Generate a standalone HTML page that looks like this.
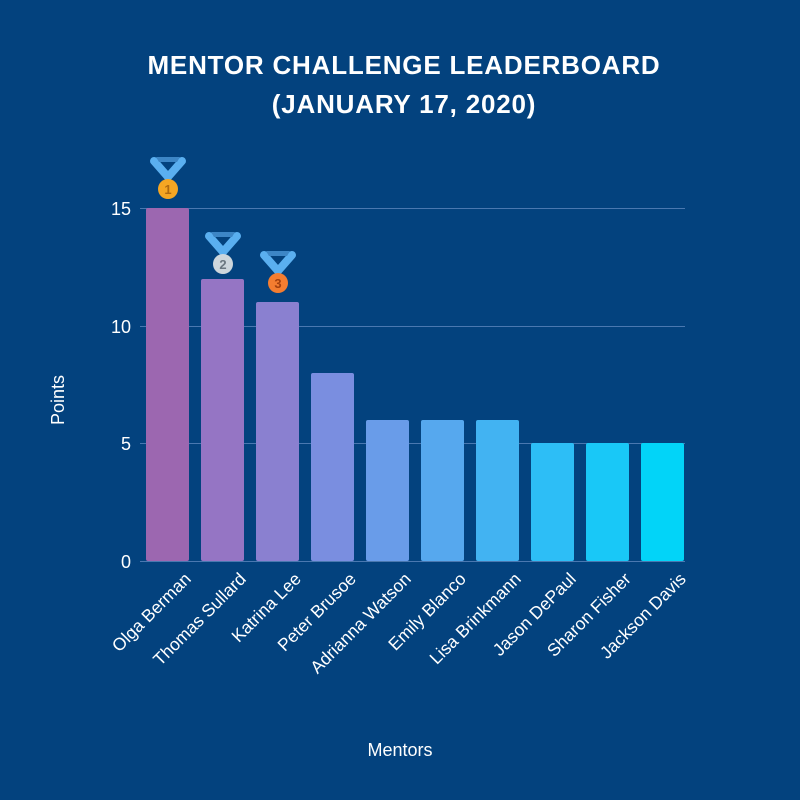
<!DOCTYPE html>
<html><head><style>
html,body{margin:0;padding:0;background:#03427e;}
svg{display:block;font-family:"Liberation Sans",sans-serif;}
</style></head><body>
<svg width="800" height="800" viewBox="0 0 800 800">
<rect width="800" height="800" fill="#03427e"/>
<text x="404" y="74" text-anchor="middle" fill="#fff" font-size="26" font-weight="bold" letter-spacing="0.8">MENTOR CHALLENGE LEADERBOARD</text>
<text x="404" y="113" text-anchor="middle" fill="#fff" font-size="26" font-weight="bold" letter-spacing="0.8">(JANUARY 17, 2020)</text>
<g stroke="#4a78b0" stroke-width="1">
<line x1="140" y1="208.5" x2="685" y2="208.5"/>
<line x1="140" y1="326.5" x2="685" y2="326.5"/>
<line x1="140" y1="443.5" x2="685" y2="443.5"/>
<line x1="140" y1="561.5" x2="685" y2="561.5"/>
</g>
<g fill="#fff" font-size="18" text-anchor="end">
<text x="131" y="215">15</text>
<text x="131" y="333">10</text>
<text x="131" y="450">5</text>
<text x="131" y="568">0</text>
</g>
<text transform="translate(64,400) rotate(-90)" text-anchor="middle" fill="#fff" font-size="18">Points</text>
<text x="400" y="756" text-anchor="middle" fill="#fff" font-size="18">Mentors</text>
<g>
<rect x="146" y="208" width="43" height="353" rx="2" fill="#9c67b0"/>
<rect x="201" y="279" width="43" height="282" rx="2" fill="#9575c4"/>
<rect x="256" y="302" width="43" height="259" rx="2" fill="#8a80d0"/>
<rect x="311" y="373" width="43" height="188" rx="2" fill="#7a8ee0"/>
<rect x="366" y="420" width="43" height="141" rx="2" fill="#699ce9"/>
<rect x="421" y="420" width="43" height="141" rx="2" fill="#56a8ee"/>
<rect x="476" y="420" width="43" height="141" rx="2" fill="#42b3f2"/>
<rect x="531" y="443" width="43" height="118" rx="2" fill="#2dbef6"/>
<rect x="586" y="443" width="43" height="118" rx="2" fill="#19c8f7"/>
<rect x="641" y="443" width="43" height="118" rx="2" fill="#02d4f8"/>
</g>
<g fill="#fff" font-size="17.5" text-anchor="end">
<text transform="translate(192,580) rotate(-45)">Olga Berman</text>
<text transform="translate(247,580) rotate(-45)">Thomas Sullard</text>
<text transform="translate(302,580) rotate(-45)">Katrina Lee</text>
<text transform="translate(357,580) rotate(-45)">Peter Brusoe</text>
<text transform="translate(412,580) rotate(-45)">Adrianna Watson</text>
<text transform="translate(467,580) rotate(-45)">Emily Blanco</text>
<text transform="translate(522,580) rotate(-45)">Lisa Brinkmann</text>
<text transform="translate(577,580) rotate(-45)">Jason DePaul</text>
<text transform="translate(632,580) rotate(-45)">Sharon Fisher</text>
<text transform="translate(687,580) rotate(-45)">Jackson Davis</text>
</g>
<defs>
<g id="rib">
<path d="M-14,-28 L0,-12 L14,-28" fill="none" stroke="#5aaff0" stroke-width="8" stroke-linejoin="round" stroke-linecap="round"/>
<path d="M-12,-32 L12,-32 L9,-27 L-9,-27 Z" fill="#3d86c6"/>
</g>
</defs>
<g transform="translate(168,189)"><use href="#rib"/><circle r="10" fill="#f5a623"/><text y="5" text-anchor="middle" font-size="13" font-weight="bold" fill="#b06a10">1</text></g>
<g transform="translate(223,264)"><use href="#rib"/><circle r="10" fill="#cdd6dc"/><text y="5" text-anchor="middle" font-size="13" font-weight="bold" fill="#6b7780">2</text></g>
<g transform="translate(278,283)"><use href="#rib"/><circle r="10" fill="#f47d30"/><text y="5" text-anchor="middle" font-size="13" font-weight="bold" fill="#a3400f">3</text></g>
</svg>
</body></html>
